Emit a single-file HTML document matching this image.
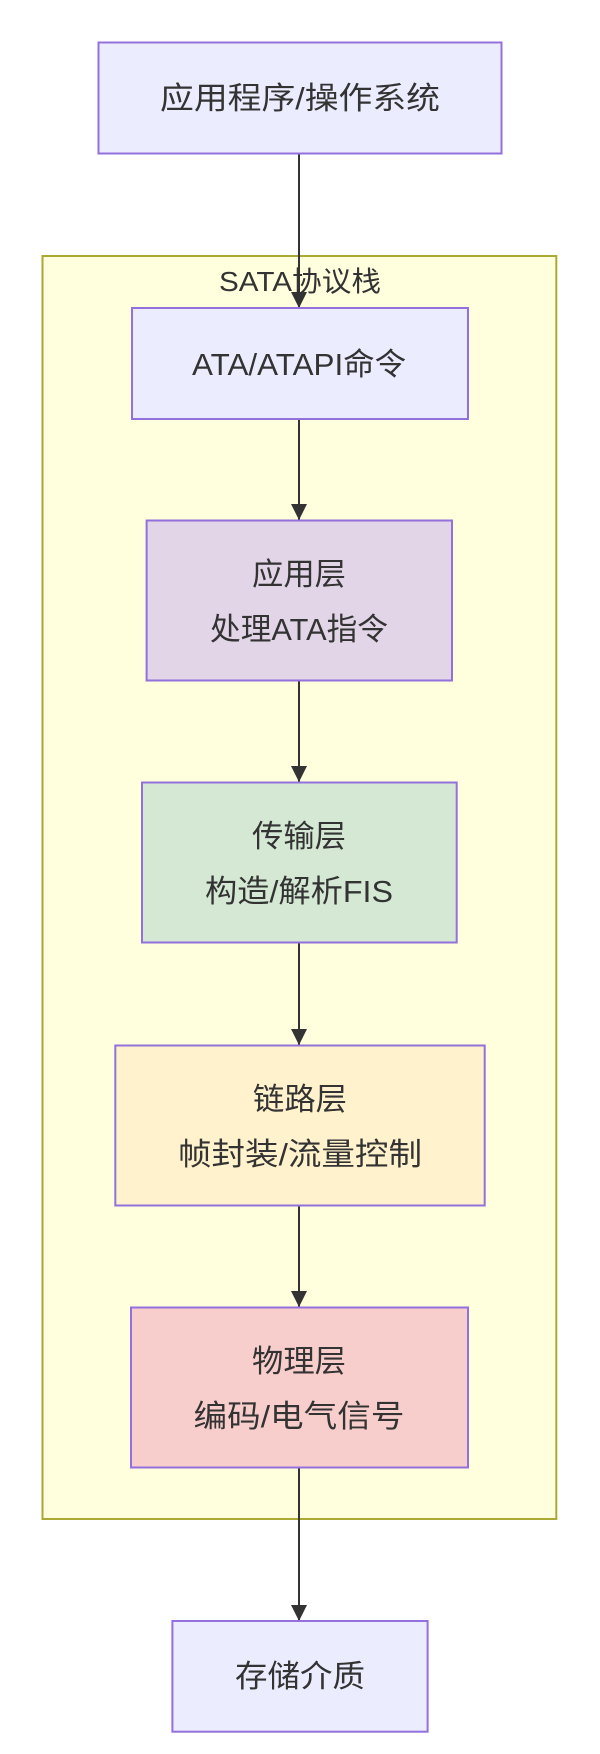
<!DOCTYPE html>
<html><head><meta charset="utf-8"><style>
html,body{margin:0;padding:0;background:#fff;}
svg{display:block;}
text{font-family:"Liberation Sans","Noto Sans CJK SC",sans-serif;font-size:31px;fill:#333;text-anchor:middle;}
</style></head><body>
<svg width="600" height="1754" viewBox="0 0 600 1754" xmlns="http://www.w3.org/2000/svg">
<defs><marker id="a" viewBox="0 0 10 10" refX="10" refY="5" markerWidth="16" markerHeight="16" markerUnits="userSpaceOnUse" orient="auto"><path d="M0,0 L10,5 L0,10 z" fill="#333"/></marker></defs>
<rect x="42.5" y="256" width="513.8" height="1263" fill="#ffffde" stroke="#aaaa33" stroke-width="2"/>
<text x="300" y="291" textLength="162" lengthAdjust="spacingAndGlyphs" style="font-size:28px">SATA协议栈</text>
<g stroke="#333" stroke-width="2" marker-end="url(#a)">
<line x1="299" y1="154" x2="299" y2="308"/>
<line x1="299" y1="419" x2="299" y2="520"/>
<line x1="299" y1="681" x2="299" y2="782"/>
<line x1="299" y1="943" x2="299" y2="1045"/>
<line x1="299" y1="1206" x2="299" y2="1307"/>
<line x1="299" y1="1468" x2="299" y2="1621"/>
</g>
<g stroke="#9370db" stroke-width="2">
<rect x="98.5" y="42.5" width="403" height="111" fill="#ececff"/>
<rect x="132" y="308" width="336" height="111" fill="#ececff"/>
<rect x="146.6" y="520.5" width="305.4" height="160" fill="#e1d5e7"/>
<rect x="142" y="782.5" width="314.7" height="160" fill="#d5e8d4"/>
<rect x="115.3" y="1045.5" width="369.4" height="160" fill="#fff2cc"/>
<rect x="131" y="1307.5" width="337" height="160" fill="#f8cecc"/>
<rect x="172.4" y="1621" width="255.2" height="110.7" fill="#ececff"/>
</g>
<text x="300" y="109" textLength="280" lengthAdjust="spacingAndGlyphs">应用程序/操作系统</text>
<text x="299" y="375" textLength="214" lengthAdjust="spacingAndGlyphs">ATA/ATAPI命令</text>
<text x="299" y="585" textLength="94" lengthAdjust="spacingAndGlyphs">应用层</text>
<text x="299" y="640" textLength="178" lengthAdjust="spacingAndGlyphs">处理ATA指令</text>
<text x="299" y="847" textLength="94" lengthAdjust="spacingAndGlyphs">传输层</text>
<text x="299" y="902" textLength="188" lengthAdjust="spacingAndGlyphs">构造/解析FIS</text>
<text x="300" y="1110" textLength="94" lengthAdjust="spacingAndGlyphs">链路层</text>
<text x="300" y="1165" textLength="244" lengthAdjust="spacingAndGlyphs">帧封装/流量控制</text>
<text x="299" y="1372" textLength="94" lengthAdjust="spacingAndGlyphs">物理层</text>
<text x="299" y="1427" textLength="211" lengthAdjust="spacingAndGlyphs">编码/电气信号</text>
<text x="300" y="1687" textLength="130" lengthAdjust="spacingAndGlyphs">存储介质</text>
</svg>
</body></html>
